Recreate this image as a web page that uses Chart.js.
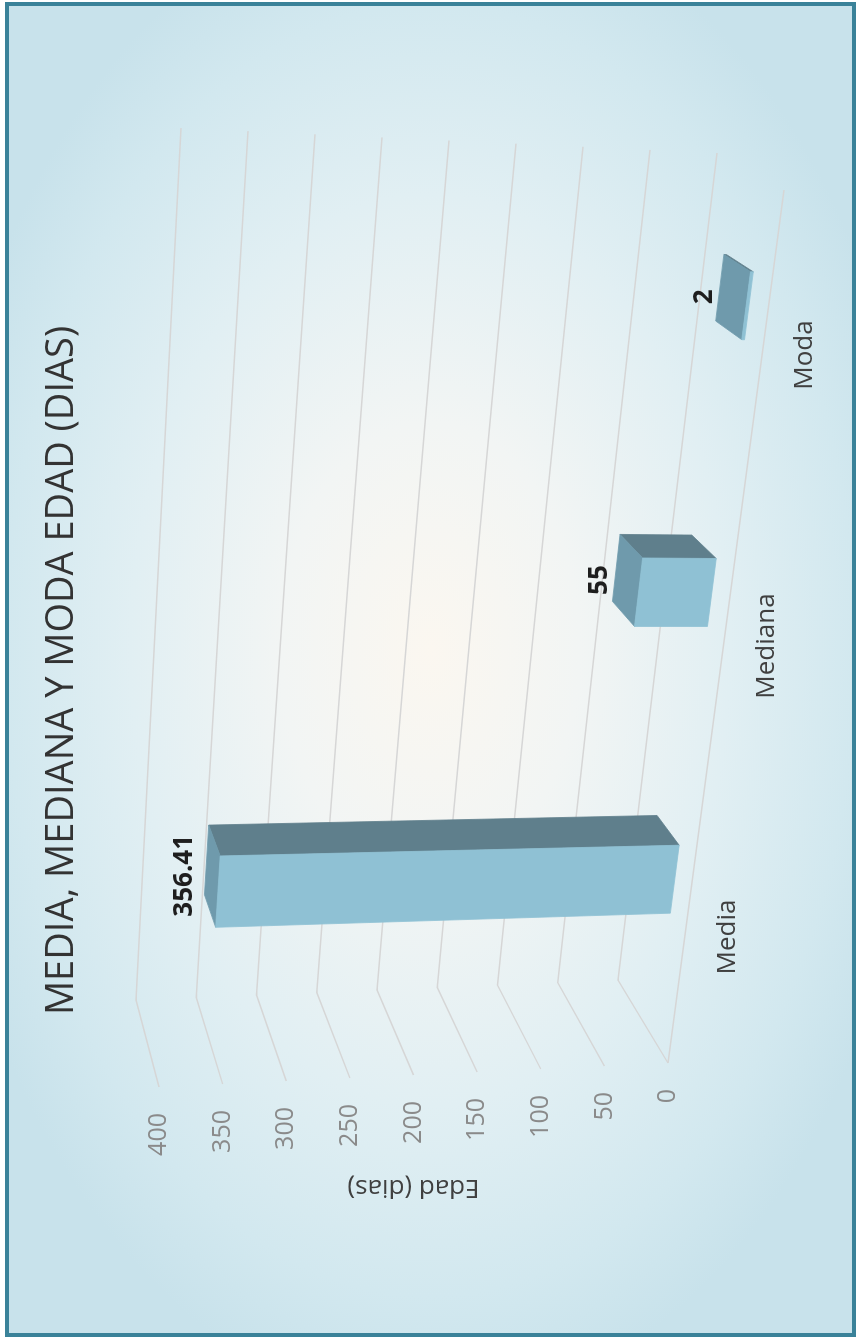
<!DOCTYPE html>
<html lang="es">
<head>
<meta charset="UTF-8">
<title>Media, mediana y moda edad (dias)</title>
<script src="https://cdn.jsdelivr.net/npm/chart.js"></script>
<style>
  html, body { margin: 0; padding: 0; background: #fff; overflow: hidden; }
  /* the chart is laid out landscape and turned a quarter counter-clockwise */
  #wrap {
    position: absolute; left: 0; top: 0;
    width: 1341px; height: 858px;
    transform-origin: 0 0;
    transform: translate(0, 1341px) rotate(-90deg);
  }
</style>
</head>
<body>
<div id="wrap"><canvas id="chart" width="1341" height="858"></canvas></div>

<script>
const categories = ['Media', 'Mediana', 'Moda'];
const edadDias = [356.41, 55, 2];
const axisTicks = [0, 50, 100, 150, 200, 250, 300, 350, 400];

// front plane of the 3D box (floor up to the top tick), canvas pixels
const plotBox = { left: 278, top: 159, right: 1151, bottom: 668 };
// shift of each box corner: f/b = front/back, l/r = left/right, 0/1 = floor/top
const cornerShift = {
    fl0: [0, 0],   fl1: [-24, 0],  fr0: [0, 116], fr1: [25, 53],
    bl0: [83, -50], bl1: [63, -23], br0: [37, 49], br1: [62, 22]
};
const barDepth = [0.28, 0.69];   // bars sit between these depths (0 front, 1 back wall)
const categoryShift = 0.02;      // perspective pushes the category bands a bit to the right

const colors = {
    grid: '#d6d6d6',
    front: '#8fc1d4',
    side: '#5f7f8c',
    top: '#6f9aac',
    tick: '#8a8a8a',
    text: '#404040',
    value: '#1e1e1e'
};

function corner(key) {
    const x = key[1] === 'l' ? plotBox.left : plotBox.right;
    const y = key[2] === '0' ? plotBox.bottom : plotBox.top;
    return [x + cornerShift[key][0], y + cornerShift[key][1]];
}

const lerp = (p, q, t) => [p[0] + (q[0] - p[0]) * t, p[1] + (q[1] - p[1]) * t];

// a: along categories 0..1, v: value 0..1, d: depth 0..1
function project(a, v, d) {
    const f0 = lerp(corner('fl0'), corner('fr0'), a);
    const f1 = lerp(corner('fl1'), corner('fr1'), a);
    const b0 = lerp(corner('bl0'), corner('br0'), a);
    const b1 = lerp(corner('bl1'), corner('br1'), a);
    return lerp(lerp(f0, f1, v), lerp(b0, b1, v), d);
}

function poly(ctx, pts, fill) {
    ctx.beginPath();
    ctx.moveTo(pts[0][0], pts[0][1]);
    for (let i = 1; i < pts.length; i++) ctx.lineTo(pts[i][0], pts[i][1]);
    ctx.closePath();
    ctx.fillStyle = fill;
    ctx.fill();
    ctx.strokeStyle = fill;
    ctx.lineWidth = 0.8;
    ctx.stroke();
}

function line(ctx, pts) {
    ctx.beginPath();
    ctx.moveTo(pts[0][0], pts[0][1]);
    for (let i = 1; i < pts.length; i++) ctx.lineTo(pts[i][0], pts[i][1]);
    ctx.stroke();
}

// chart-area pixels -> box coordinates
function boxCoords(chart) {
    const ca = chart.chartArea;
    return {
        a: px => categoryShift + (px - ca.left) / (ca.right - ca.left),
        v: py => (ca.bottom - py) / (ca.bottom - ca.top)
    };
}

const box3d = {
    id: 'box3d',
    beforeDraw(chart) {
        const ctx = chart.ctx;
        const w = chart.width, h = chart.height;
        ctx.save();
        ctx.fillStyle = '#ffffff';
        ctx.fillRect(0, 0, w, h);

        // soft radial backdrop
        ctx.beginPath();
        ctx.rect(6, 7, w - 10, h - 11);
        ctx.clip();
        ctx.translate(691, 430);
        ctx.scale(1, 500 / 760);
        const g = ctx.createRadialGradient(0, 0, 0, 0, 0, 760);
        g.addColorStop(0, '#fbf7f0');
        g.addColorStop(0.3, '#f2f5f4');
        g.addColorStop(0.6, '#e1eff3');
        g.addColorStop(0.85, '#d2e8ef');
        g.addColorStop(1, '#c8e2eb');
        ctx.fillStyle = g;
        ctx.fillRect(-1000, -1400, 2000, 2800);
        ctx.restore();

        ctx.save();
        ctx.strokeStyle = '#3a8299';
        ctx.lineWidth = 4;
        ctx.strokeRect(6, 7, w - 10, h - 11);
        ctx.restore();
    },
    beforeDatasetsDraw(chart) {
        const ctx = chart.ctx;
        const ys = chart.scales.y;
        const n = boxCoords(chart);

        ctx.save();
        // side wall + back wall gridlines
        ctx.strokeStyle = colors.grid;
        ctx.lineWidth = 1.4;
        ys.ticks.forEach(t => {
            const v = n.v(ys.getPixelForValue(t.value));
            line(ctx, [project(0, v, 0), project(0, v, 1), project(1, v, 1)]);
        });
        // front edge of the floor
        line(ctx, [project(0, 0, 0), project(1, 0, 0)]);

        // bars as boxes
        const [d0, d1] = barDepth;
        chart.getDatasetMeta(0).data.forEach(el => {
            const a0 = n.a(el.x - el.width / 2);
            const a1 = n.a(el.x + el.width / 2);
            const vt = n.v(el.y);
            poly(ctx, [project(a1, 0, d0), project(a1, 0, d1), project(a1, vt, d1), project(a1, vt, d0)], colors.side);
            poly(ctx, [project(a0, vt, d0), project(a1, vt, d0), project(a1, vt, d1), project(a0, vt, d1)], colors.top);
            poly(ctx, [project(a0, 0, d0), project(a1, 0, d0), project(a1, vt, d0), project(a0, vt, d0)], colors.front);
        });
        ctx.restore();
        return false;
    },
    afterDraw(chart) {
        const ctx = chart.ctx;
        const xs = chart.scales.x, ys = chart.scales.y;
        const n = boxCoords(chart);
        const [d0, d1] = barDepth;

        ctx.save();
        ctx.textBaseline = 'middle';

        // value axis tick labels along the front-left edge
        ctx.font = '25px "Open Sans"';
        ctx.fillStyle = colors.tick;
        ctx.textAlign = 'right';
        ys.ticks.forEach(t => {
            const p = project(0, n.v(ys.getPixelForValue(t.value)), 0);
            ctx.fillText(t.label, p[0] - 26, p[1]);
        });

        // category labels under the floor
        ctx.font = '26px "Open Sans"';
        ctx.fillStyle = colors.text;
        ctx.textAlign = 'center';
        categories.forEach((c, i) => {
            const p = project(n.a(xs.getPixelForValue(i)), 0, 0);
            ctx.fillText(c, p[0] - 37, p[1] + 38);
        });

        // axis title
        const pt = project(0, 0.5, 0);
        ctx.save();
        ctx.translate(pt[0] - 112, pt[1]);
        ctx.rotate(-Math.PI / 2);
        ctx.fillText('Edad (dias)', 0, 0);
        ctx.restore();

        // value labels above each bar
        ctx.font = 'bold 26px "Open Sans"';
        ctx.fillStyle = colors.value;
        chart.getDatasetMeta(0).data.forEach((el, i) => {
            const p = project(n.a(el.x), n.v(el.y), (d0 + d1) / 2);
            ctx.fillText(String(edadDias[i]), p[0], p[1] - 28);
        });
        ctx.restore();
    }
};

new Chart(document.getElementById('chart'), {
    type: 'bar',
    data: {
        labels: categories,
        datasets: [{
            label: 'Edad (dias)',
            data: edadDias,
            backgroundColor: colors.front,
            barPercentage: 0.237,
            categoryPercentage: 1
        }]
    },
    options: {
        responsive: false,
        animation: false,
        devicePixelRatio: 1,
        layout: { padding: 0 },
        scales: {
            x: { display: false },
            y: {
                display: false,
                min: axisTicks[0],
                max: axisTicks[axisTicks.length - 1],
                ticks: { stepSize: axisTicks[1] - axisTicks[0] }
            }
        },
        plugins: {
            legend: { display: false },
            tooltip: { enabled: false },
            title: {
                display: true,
                text: 'MEDIA, MEDIANA Y MODA EDAD (DIAS)',
                color: '#333333',
                font: { family: 'Open Sans', size: 38, weight: 'normal' },
                padding: { top: 39, bottom: 10 }
            }
        }
    },
    plugins: [box3d]
});
</script>
</body>
</html>
